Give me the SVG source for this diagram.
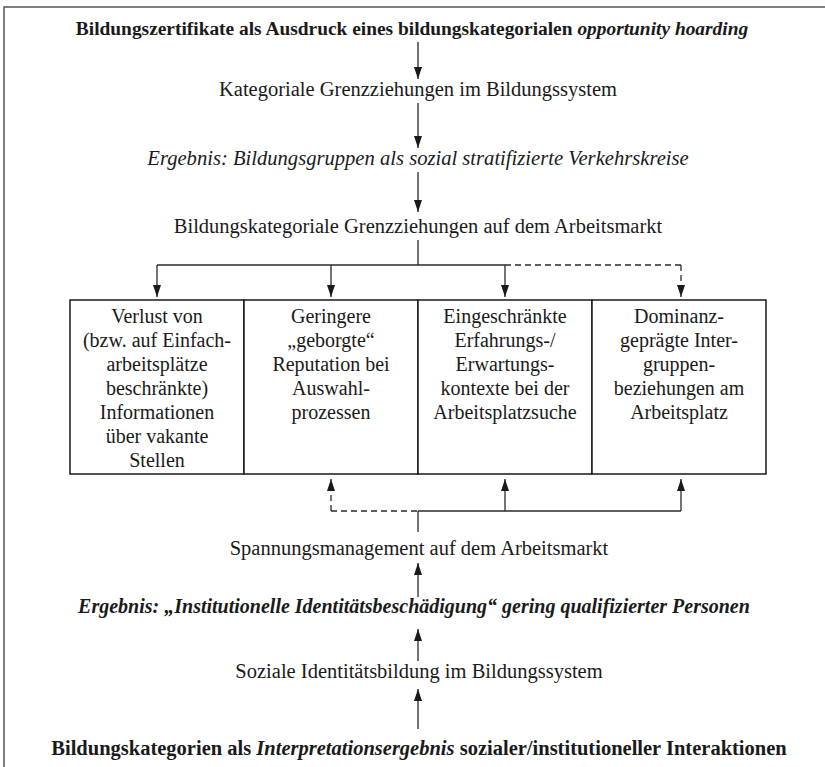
<svg xmlns="http://www.w3.org/2000/svg" width="825" height="767" viewBox="0 0 825 767">
<style>
.t{font-family:"Liberation Serif","Times New Roman",serif;font-size:20.5px;fill:#1a1a1a;text-anchor:middle}
.bx{font-size:20px}
.b{font-weight:bold}
.i{font-style:italic}
.ln{stroke:#2a2a2a;stroke-width:1.3;fill:none}
.ds{stroke-dasharray:6 4}
.box{fill:#fff;stroke:#1a1a1a;stroke-width:1.5}
.frame{fill:none;stroke:#555;stroke-width:1.5}
</style>
<defs>
<marker id="ah" viewBox="0 0 12 8" refX="12" refY="4" markerWidth="12" markerHeight="8" markerUnits="userSpaceOnUse" orient="auto">
<path d="M0,0 L12,4 L0,8 z" fill="#1a1a1a"/>
</marker>
</defs>
<rect class="frame" x="4" y="7" width="840" height="800"/>

<g id="n-top"><text class="t b" x="412" y="35" style="font-size:19.4px">Bildungszertifikate als Ausdruck eines bildungskategorialen <tspan class="i">opportunity hoarding</tspan></text></g>
<g id="n-kat"><text class="t" x="418" y="96">Kategoriale Grenzziehungen im Bildungssystem</text></g>
<g id="n-erg1"><text class="t i" x="418" y="165" style="font-size:20.6px">Ergebnis: Bildungsgruppen als sozial stratifizierte Verkehrskreise</text></g>
<g id="n-arb"><text class="t" x="418" y="233">Bildungskategoriale Grenzziehungen auf dem Arbeitsmarkt</text></g>

<g id="box1"><rect class="box" x="70" y="300" width="174" height="174"/>
<text class="t bx" x="157"><tspan x="157" y="323">Verlust von</tspan><tspan x="157" y="347">(bzw. auf Einfach-</tspan><tspan x="157" y="371">arbeitsplätze</tspan><tspan x="157" y="395">beschränkte)</tspan><tspan x="157" y="419">Informationen</tspan><tspan x="157" y="443">über vakante</tspan><tspan x="157" y="467">Stellen</tspan></text></g>
<g id="box2"><rect class="box" x="244" y="300" width="174" height="174"/>
<text class="t bx" x="331"><tspan x="331" y="323">Geringere</tspan><tspan x="331" y="347">„geborgte“</tspan><tspan x="331" y="371">Reputation bei</tspan><tspan x="331" y="395">Auswahl-</tspan><tspan x="331" y="419">prozessen</tspan></text></g>
<g id="box3"><rect class="box" x="418" y="300" width="174" height="174"/>
<text class="t bx" x="505"><tspan x="505" y="323">Eingeschränkte</tspan><tspan x="505" y="347">Erfahrungs-/</tspan><tspan x="505" y="371">Erwartungs-</tspan><tspan x="505" y="395">kontexte bei der</tspan><tspan x="505" y="419">Arbeitsplatzsuche</tspan></text></g>
<g id="box4"><rect class="box" x="592" y="300" width="174" height="174"/>
<text class="t bx" x="679"><tspan x="679" y="323">Dominanz-</tspan><tspan x="679" y="347">geprägte Inter-</tspan><tspan x="679" y="371">gruppen-</tspan><tspan x="679" y="395">beziehungen am</tspan><tspan x="679" y="419">Arbeitsplatz</tspan></text></g>

<g id="n-span"><text class="t" x="419" y="555">Spannungsmanagement auf dem Arbeitsmarkt</text></g>
<g id="n-erg2"><text class="t b i" x="414" y="613" style="font-size:20px">Ergebnis: „Institutionelle Identitätsbeschädigung“ gering qualifizierter Personen</text></g>
<g id="n-soz"><text class="t" x="419" y="678">Soziale Identitätsbildung im Bildungssystem</text></g>
<g id="n-bot"><text class="t b" x="419" y="755">Bildungskategorien als <tspan class="i">Interpretationsergebnis</tspan> sozialer/institutioneller Interaktionen</text></g>

<g id="connectors">
<line class="ln" x1="418" y1="42" x2="418" y2="79" marker-end="url(#ah)"/>
<line class="ln" x1="418" y1="103" x2="418" y2="148" marker-end="url(#ah)"/>
<line class="ln" x1="418" y1="172" x2="418" y2="212" marker-end="url(#ah)"/>
<line class="ln" x1="418" y1="240" x2="418" y2="265"/>
<line class="ln" x1="157" y1="265" x2="505" y2="265"/>
<line class="ln ds" x1="505" y1="265" x2="681" y2="265"/>
<line class="ln" x1="157" y1="265" x2="157" y2="297" marker-end="url(#ah)"/>
<line class="ln" x1="331" y1="265" x2="331" y2="297" marker-end="url(#ah)"/>
<line class="ln" x1="505" y1="265" x2="505" y2="297" marker-end="url(#ah)"/>
<line class="ln ds" x1="681" y1="265" x2="681" y2="297" marker-end="url(#ah)"/>
<line class="ln ds" x1="331" y1="511" x2="418" y2="511"/>
<line class="ln" x1="418" y1="511" x2="681" y2="511"/>
<line class="ln" x1="418" y1="532" x2="418" y2="511"/>
<line class="ln ds" x1="331" y1="511" x2="331" y2="479" marker-end="url(#ah)"/>
<line class="ln" x1="505" y1="511" x2="505" y2="479" marker-end="url(#ah)"/>
<line class="ln" x1="681" y1="511" x2="681" y2="479" marker-end="url(#ah)"/>
<line class="ln" x1="418" y1="597" x2="418" y2="563" marker-end="url(#ah)"/>
<line class="ln" x1="418" y1="661" x2="418" y2="629" marker-end="url(#ah)"/>
<line class="ln" x1="418" y1="729" x2="418" y2="689" marker-end="url(#ah)"/>
</g>
</svg>
